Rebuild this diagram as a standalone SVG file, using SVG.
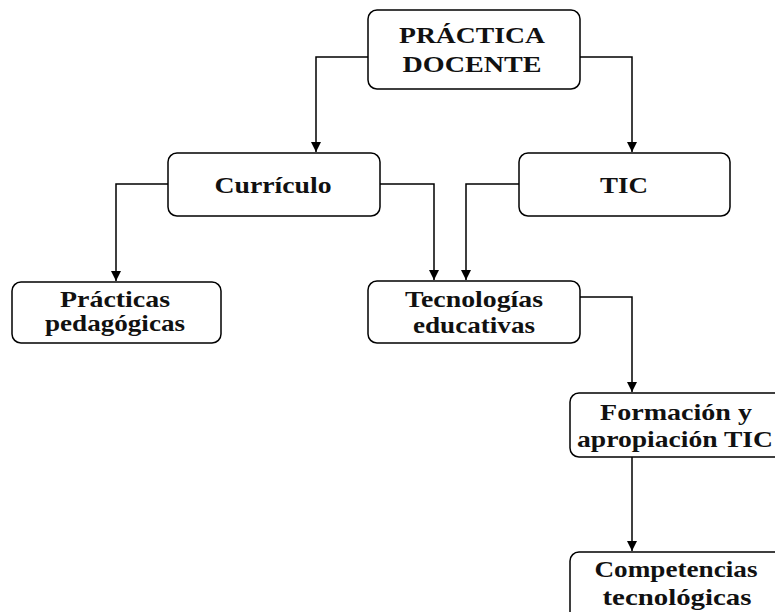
<svg xmlns="http://www.w3.org/2000/svg" width="775" height="612" viewBox="0 0 775 612">
<style>
.box{fill:#fff;stroke:#000;stroke-width:1.5}
.t{font-family:"Liberation Serif","Times New Roman",serif;font-weight:bold;font-size:24px;fill:#111;text-anchor:middle}
.c{fill:none;stroke:#000;stroke-width:1.5}
</style>
<defs>
<marker id="ah" markerWidth="10" markerHeight="10" refX="5" refY="9" orient="auto-start-reverse" markerUnits="userSpaceOnUse" viewBox="0 0 10 10">
<path d="M0,0 L10,0 L5,10 Z" fill="#000" transform="rotate(0)"/>
</marker>
<marker id="arr" viewBox="0 0 10 10" refX="10" refY="5" markerWidth="10" markerHeight="10" markerUnits="userSpaceOnUse" orient="auto">
<path d="M0,0 L10,5 L0,10 Z" fill="#000"/>
</marker>
</defs>
<rect width="775" height="612" fill="#fff"/>
<g id="connectors">
<path class="c" d="M368,57 H316 V152" marker-end="url(#arr)"/>
<path class="c" d="M580,57 H632 V152" marker-end="url(#arr)"/>
<path class="c" d="M168,184 H116 V281" marker-end="url(#arr)"/>
<path class="c" d="M380,184 H434 V280" marker-end="url(#arr)"/>
<path class="c" d="M519,184 H466 V280" marker-end="url(#arr)"/>
<path class="c" d="M580,297 H632 V392" marker-end="url(#arr)"/>
<path class="c" d="M632,457 V551" marker-end="url(#arr)"/>
</g>
<g id="practica-docente">
<rect class="box" x="368" y="10" width="212" height="79" rx="9"/>
<text class="t" x="472" y="43" textLength="146" lengthAdjust="spacingAndGlyphs">PRÁCTICA</text>
<text class="t" x="472" y="72" textLength="139" lengthAdjust="spacingAndGlyphs">DOCENTE</text>
</g>
<g id="curriculo">
<rect class="box" x="168" y="153" width="212" height="63" rx="9"/>
<text class="t" x="273" y="193" textLength="117" lengthAdjust="spacingAndGlyphs">Currículo</text>
</g>
<g id="tic">
<rect class="box" x="519" y="153" width="211" height="63" rx="9"/>
<text class="t" x="624" y="193" textLength="48" lengthAdjust="spacingAndGlyphs">TIC</text>
</g>
<g id="practicas-pedagogicas">
<rect class="box" x="12" y="282" width="209" height="61" rx="9"/>
<text class="t" x="115" y="307" textLength="110" lengthAdjust="spacingAndGlyphs">Prácticas</text>
<text class="t" x="115" y="331" textLength="140" lengthAdjust="spacingAndGlyphs">pedagógicas</text>
</g>
<g id="tecnologias-educativas">
<rect class="box" x="368" y="281" width="212" height="62" rx="9"/>
<text class="t" x="474" y="307" textLength="138" lengthAdjust="spacingAndGlyphs">Tecnologías</text>
<text class="t" x="474" y="333" textLength="122" lengthAdjust="spacingAndGlyphs">educativas</text>
</g>
<g id="formacion-apropiacion">
<rect class="box" x="570" y="393" width="215" height="64" rx="9"/>
<text class="t" x="676" y="420" textLength="152" lengthAdjust="spacingAndGlyphs">Formación y</text>
<text class="t" x="675" y="447" textLength="196" lengthAdjust="spacingAndGlyphs">apropiación TIC</text>
</g>
<g id="competencias-tecnologicas">
<rect class="box" x="570" y="552" width="215" height="75" rx="9"/>
<text class="t" x="676" y="577" textLength="163" lengthAdjust="spacingAndGlyphs">Competencias</text>
<text class="t" x="677" y="605" textLength="149" lengthAdjust="spacingAndGlyphs">tecnológicas</text>
</g>
</svg>
